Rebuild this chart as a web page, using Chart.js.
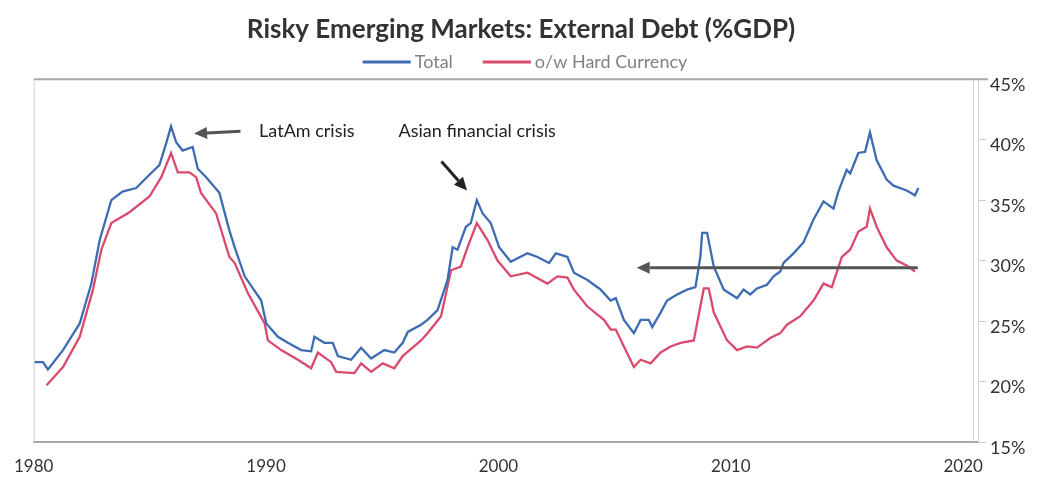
<!DOCTYPE html>
<html>
<head>
<meta charset="utf-8">
<script src="https://cdn.jsdelivr.net/npm/chart.js@4.4.1/dist/chart.umd.min.js"></script>
<style>
  html, body { margin: 0; padding: 0; background: #fff; }
  #wrap { width: 1042px; height: 479px; position: relative; }
</style>
</head>
<body>
<div id="wrap"><canvas id="debtChart"></canvas></div>
<script>
// Total external debt, % of GDP
const totalYears = [1980.04, 1980.40, 1980.61, 1981.26, 1981.98, 1982.48, 1982.84, 1983.34, 1983.82, 1984.41,
  1984.98, 1985.41, 1985.70, 1985.91, 1986.13, 1986.41, 1986.84, 1987.06, 1987.42, 1987.99,
  1988.42, 1988.65, 1989.08, 1989.79, 1990.01, 1990.51, 1990.94, 1991.51, 1991.94, 1992.08,
  1992.51, 1992.87, 1993.09, 1993.66, 1994.09, 1994.52, 1995.09, 1995.52, 1995.88, 1996.10,
  1996.67, 1996.95, 1997.38, 1997.81, 1998.03, 1998.24, 1998.60, 1998.81, 1999.07, 1999.32,
  1999.67, 2000.03, 2000.53, 2001.25, 2001.68, 2002.18, 2002.47, 2002.97, 2003.25, 2003.83,
  2004.26, 2004.40, 2004.83, 2005.05, 2005.40, 2005.83, 2006.12, 2006.47, 2006.62, 2006.98,
  2007.26, 2007.69, 2008.12, 2008.48, 2008.69, 2008.77, 2008.98, 2009.27, 2009.70, 2010.27,
  2010.55, 2010.84, 2011.13, 2011.56, 2011.84, 2012.13, 2012.27, 2012.70, 2013.13, 2013.56,
  2013.99, 2014.42, 2014.63, 2014.99, 2015.14, 2015.49, 2015.78, 2015.99, 2016.28, 2016.71,
  2017.00, 2017.57, 2017.93, 2018.07];
const totalValues = [21.6, 21.6, 21.0, 22.6, 24.8, 28.1, 31.7, 35.0, 35.7, 36.0,
  37.1, 37.9, 39.7, 41.1, 39.8, 39.1, 39.4, 37.6, 36.9, 35.6,
  32.5, 31.1, 28.7, 26.7, 24.8, 23.7, 23.2, 22.6, 22.5, 23.7,
  23.2, 23.2, 22.1, 21.8, 22.8, 21.9, 22.6, 22.4, 23.2, 24.1,
  24.7, 25.1, 25.9, 28.4, 31.1, 30.9, 32.8, 33.1, 35.0, 33.9,
  33.1, 31.1, 29.9, 30.6, 30.3, 29.8, 30.6, 30.3, 29.0, 28.4,
  27.8, 27.6, 26.7, 26.9, 25.1, 24.0, 25.1, 25.1, 24.5, 25.7,
  26.7, 27.2, 27.6, 27.8, 30.3, 32.3, 32.3, 29.5, 27.6, 26.9,
  27.6, 27.2, 27.7, 28.0, 28.7, 29.1, 29.8, 30.6, 31.5, 33.4,
  34.9, 34.3, 35.7, 37.5, 37.2, 38.9, 39.0, 40.6, 38.3, 36.7,
  36.2, 35.8, 35.4, 36.0];

// of which hard currency, % of GDP
const hardYears = [1980.55, 1981.26, 1981.98, 1982.55, 1982.91, 1983.34, 1984.12, 1984.98, 1985.49, 1985.91,
  1986.20, 1986.70, 1986.99, 1987.20, 1987.85, 1988.42, 1988.65, 1989.22, 1989.94, 1990.08,
  1990.65, 1991.37, 1991.94, 1992.23, 1992.80, 1993.02, 1993.80, 1994.09, 1994.52, 1995.02,
  1995.52, 1995.88, 1996.67, 1996.95, 1997.53, 1997.96, 1998.38, 1998.67, 1999.07, 1999.53,
  1999.96, 2000.53, 2001.25, 2002.11, 2002.54, 2002.97, 2003.25, 2003.83, 2004.54, 2004.83,
  2005.05, 2005.40, 2005.83, 2006.12, 2006.55, 2006.98, 2007.41, 2007.84, 2008.41, 2008.69,
  2008.84, 2009.05, 2009.27, 2009.84, 2010.27, 2010.70, 2011.13, 2011.70, 2012.13, 2012.42,
  2012.99, 2013.56, 2013.99, 2014.35, 2014.78, 2015.14, 2015.49, 2015.85, 2015.99, 2016.28,
  2016.71, 2017.14, 2017.57, 2017.93];
const hardValues = [19.7, 21.2, 23.7, 27.6, 30.9, 33.1, 34.0, 35.3, 36.9, 38.9,
  37.3, 37.3, 36.9, 35.6, 33.9, 30.3, 29.8, 27.3, 24.8, 23.4,
  22.6, 21.8, 21.1, 22.4, 21.6, 20.8, 20.7, 21.5, 20.8, 21.5,
  21.1, 22.1, 23.4, 24.0, 25.4, 29.2, 29.5, 31.1, 33.1, 31.7,
  30.0, 28.7, 29.0, 28.1, 28.7, 28.6, 27.6, 26.2, 25.1, 24.3,
  24.3, 22.9, 21.2, 21.8, 21.5, 22.4, 22.9, 23.2, 23.4, 26.2,
  27.7, 27.7, 25.7, 23.4, 22.6, 22.9, 22.8, 23.6, 24.0, 24.7,
  25.4, 26.7, 28.1, 27.8, 30.3, 30.9, 32.4, 32.8, 34.3, 32.8,
  31.1, 30.0, 29.6, 29.1];

const xTicks = [1980, 1990, 2000, 2010, 2020];
const yTicks = [15, 20, 25, 30, 35, 40, 45];

// callouts: text anchor and arrow tail -> head, in (year, %) units
const notes = [
  { text: 'LatAm crisis', at: [1989.7, 40.7], from: [1988.9, 40.7], to: [1986.9, 40.5], color: '#555' },
  { text: 'Asian financial crisis', at: [1995.7, 40.7], from: [1997.55, 38.2], to: [1998.65, 35.8], color: '#222' },
  { text: '', at: null, from: [2018.05, 29.4], to: [2005.95, 29.4], color: '#555' }
];

const toPts = (xs, ys) => xs.map((x, i) => ({ x: x, y: ys[i] }));

const frame = {
  id: 'frame',
  beforeDatasetsDraw(chart) {
    const { ctx, chartArea: a } = chart;
    ctx.save();
    ctx.lineWidth = 1;
    ctx.strokeStyle = '#d4d4d4';
    ctx.beginPath();
    ctx.moveTo(a.left + 0.5, a.top);
    ctx.lineTo(a.left + 0.5, a.bottom);
    ctx.moveTo(a.right - 4.5, a.top);
    ctx.lineTo(a.right - 4.5, a.bottom);
    ctx.stroke();
    ctx.lineWidth = 2;
    ctx.strokeStyle = '#a8a8a8';
    ctx.beginPath();
    ctx.moveTo(a.left, a.top);
    ctx.lineTo(a.right + 10, a.top);
    ctx.stroke();
    ctx.restore();
  }
};

// line-sample legend under the title
const lineLegend = {
  id: 'lineLegend',
  afterDraw(chart) {
    const { ctx } = chart;
    const sample = 48, gap = 4, spacing = 30, y = 62;
    ctx.save();
    ctx.font = '18px Lato';
    ctx.textBaseline = 'middle';
    ctx.textAlign = 'left';
    const sets = chart.data.datasets;
    const widths = sets.map(d => sample + gap + ctx.measureText(d.label).width);
    const total = widths.reduce((a, b) => a + b, 0) + spacing * (sets.length - 1);
    let x = chart.width / 2 - total / 2 + 4;
    sets.forEach((d, i) => {
      ctx.strokeStyle = d.borderColor;
      ctx.lineWidth = 3;
      ctx.beginPath();
      ctx.moveTo(x, y);
      ctx.lineTo(x + sample, y);
      ctx.stroke();
      ctx.fillStyle = '#808080';
      ctx.fillText(d.label, x + sample + gap, y);
      x += widths[i] + spacing;
    });
    ctx.restore();
  }
};

function arrow(ctx, x1, y1, x2, y2, color) {
  const ang = Math.atan2(y2 - y1, x2 - x1);
  const len = 13, half = 6;
  const bx = x2 - Math.cos(ang) * len, by = y2 - Math.sin(ang) * len;
  ctx.strokeStyle = color;
  ctx.fillStyle = color;
  ctx.lineWidth = 3;
  ctx.beginPath();
  ctx.moveTo(x1, y1);
  ctx.lineTo(bx, by);
  ctx.stroke();
  ctx.beginPath();
  ctx.moveTo(x2, y2);
  ctx.lineTo(bx + Math.sin(ang) * half, by - Math.cos(ang) * half);
  ctx.lineTo(bx - Math.sin(ang) * half, by + Math.cos(ang) * half);
  ctx.closePath();
  ctx.fill();
}

const callouts = {
  id: 'callouts',
  afterDatasetsDraw(chart) {
    const { ctx, scales: { x, y } } = chart;
    ctx.save();
    notes.forEach(n => {
      arrow(ctx, x.getPixelForValue(n.from[0]), y.getPixelForValue(n.from[1]),
        x.getPixelForValue(n.to[0]), y.getPixelForValue(n.to[1]), n.color);
      if (n.text) {
        ctx.fillStyle = '#222';
        ctx.font = '18px Lato';
        ctx.textBaseline = 'middle';
        ctx.textAlign = 'left';
        ctx.fillText(n.text, x.getPixelForValue(n.at[0]), y.getPixelForValue(n.at[1]));
      }
    });
    ctx.restore();
  }
};

new Chart(document.getElementById('debtChart'), {
  type: 'line',
  data: {
    datasets: [
      {
        label: 'Total',
        data: toPts(totalYears, totalValues),
        borderColor: '#3d6cb3',
        backgroundColor: '#3d6cb3',
        borderWidth: 2.3,
        pointRadius: 0,
        tension: 0
      },
      {
        label: 'o/w Hard Currency',
        data: toPts(hardYears, hardValues),
        borderColor: '#d94a6c',
        backgroundColor: '#d94a6c',
        borderWidth: 2.3,
        pointRadius: 0,
        tension: 0
      }
    ]
  },
  options: {
    responsive: true,
    maintainAspectRatio: false,
    animation: false,
    layout: { padding: 0 },
    plugins: {
      title: {
        display: true,
        text: 'Risky Emerging Markets: External Debt (%GDP)',
        color: '#333',
        font: { family: 'Lato', size: 26, weight: 'bold' },
        padding: { top: 14, bottom: 34 }
      },
      legend: { display: false },
      tooltip: { enabled: false }
    },
    scales: {
      x: {
        type: 'linear',
        min: 1980,
        max: 2020.64,
        afterBuildTicks: s => { s.ticks = xTicks.map(v => ({ value: v })); },
        afterFit: s => { s.height = 37; },
        grid: { drawOnChartArea: false, drawTicks: false },
        border: { color: '#a8a8a8', width: 2 },
        ticks: {
          color: '#333',
          font: { family: 'Lato', size: 17 },
          padding: 14,
          maxRotation: 0,
          callback: v => String(v)
        }
      },
      // empty left margin so the title stays centred on the page
      gutter: {
        position: 'left',
        display: true,
        afterFit: s => { s.width = 32; },
        grid: { display: false },
        border: { display: false },
        ticks: { display: false }
      },
      y: {
        position: 'right',
        min: 15,
        max: 45,
        afterBuildTicks: s => { s.ticks = yTicks.map(v => ({ value: v })); },
        afterFit: s => { s.width = 64; },
        grid: { drawOnChartArea: false, tickLength: 8, color: '#ccc' },
        border: { color: '#d4d4d4', width: 1 },
        ticks: {
          color: '#333',
          font: { family: 'Lato', size: 18 },
          padding: 4,
          labelOffset: 6,
          callback: v => v + '%'
        }
      }
    }
  },
  plugins: [frame, lineLegend, callouts]
});
</script>
</body>
</html>
